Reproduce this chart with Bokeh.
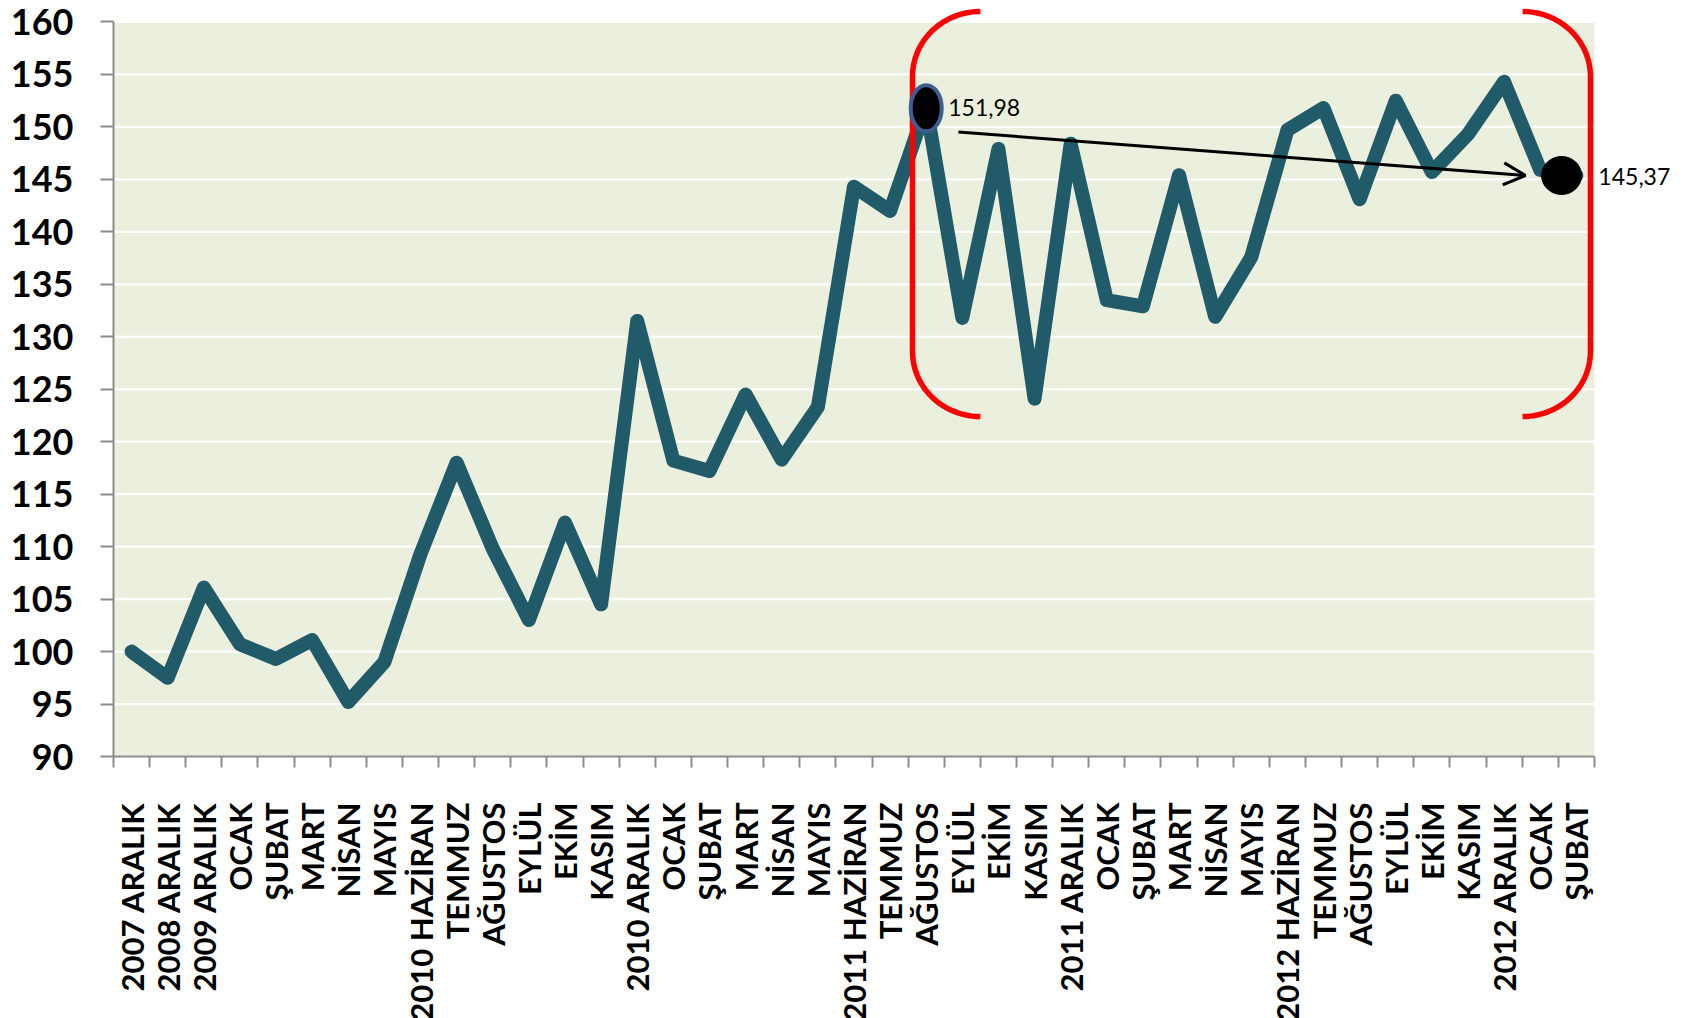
import math
import numpy as np
from bokeh.plotting import figure
from bokeh.models import Range1d, FixedTicker, Label, Arrow, OpenHead
from bokeh.embed import file_html
from bokeh.resources import INLINE

categories = ["2007 ARALIK", "2008 ARALIK", "2009 ARALIK", "OCAK", "ŞUBAT", "MART", "NİSAN", "MAYIS",
              "2010 HAZİRAN", "TEMMUZ", "AĞUSTOS", "EYLÜL", "EKİM", "KASIM", "2010 ARALIK",
              "OCAK", "ŞUBAT", "MART", "NİSAN", "MAYIS",
              "2011 HAZİRAN", "TEMMUZ", "AĞUSTOS", "EYLÜL", "EKİM", "KASIM", "2011 ARALIK",
              "OCAK", "ŞUBAT", "MART", "NİSAN", "MAYIS",
              "2012 HAZİRAN", "TEMMUZ", "AĞUSTOS", "EYLÜL", "EKİM", "KASIM", "2012 ARALIK",
              "OCAK", "ŞUBAT"]
values = [100.0, 97.5, 106.1, 100.7, 99.3, 101.1, 95.2, 99.0,
          109.3, 118.0, 109.8, 103.0, 112.3, 104.5, 131.5,
          118.2, 117.2, 124.5, 118.3, 123.3,
          144.3, 142.0, 151.98, 131.8, 147.9, 124.1, 148.4,
          133.5, 132.9, 145.4, 131.9, 137.6,
          149.7, 151.8, 143.1, 152.5, 145.7, 149.3, 154.3,
          145.9, 145.37]
y_ticks = [90, 95, 100, 105, 110, 115, 120, 125, 130, 135, 140, 145, 150, 155, 160]
start_label = "151,98"
end_label = "145,37"
start_idx = 22
end_idx = 40

n = len(categories)
xs = list(range(n))
y_min, y_max = y_ticks[0], y_ticks[-1]
x_lo, x_hi = -0.5, n - 0.5
px_x, px_y = 36.12, 10.493
FW, FH = 1567, 748

# frame extends to the right of the last category so the end label fits
p = figure(frame_width=FW, frame_height=FH, output_backend="svg", toolbar_location=None,
           x_range=Range1d(x_lo, x_lo + FW / px_x), y_range=Range1d(y_min, y_min + FH / px_y),
           min_border_left=113, min_border_right=0, min_border_top=8, min_border_bottom=240)
p.background_fill_color = "white"
p.border_fill_color = "white"
p.outline_line_color = None

# plot-area fill
p.quad(left=x_lo, right=x_hi, bottom=y_min, top=y_max, fill_color="#EBEFDE",
       line_color=None, level="image")

# grid (limited to the plot area)
p.xgrid.visible = False
p.ygrid.visible = False
p.segment(x0=[x_lo] * len(y_ticks), x1=[x_hi] * len(y_ticks), y0=y_ticks, y1=y_ticks,
          line_color="white", line_width=2.2, level="underlay")

# axes
ax = p.xaxis[0]
ax.ticker = FixedTicker(ticks=xs, minor_ticks=[i - 0.5 for i in range(n + 1)])
ax.bounds = (x_lo, x_hi)
ax.major_label_overrides = {i: c for i, c in enumerate(categories)}
ax.major_label_orientation = math.pi / 2
ax.major_tick_out = 0
ax.major_tick_in = 0
ax.minor_tick_out = 11
ax.minor_tick_in = 0
ax.minor_tick_line_color = "#8C8C8C"
ax.minor_tick_line_width = 2
ax.axis_line_color = "#8C8C8C"
ax.axis_line_width = 2
ax.major_label_standoff = 35
ax.major_label_text_font = "Lato"
ax.major_label_text_font_style = "bold"
ax.major_label_text_font_size = "31px"
ax.major_label_text_color = "black"

ay = p.yaxis[0]
ay.ticker = FixedTicker(ticks=y_ticks, minor_ticks=[])
ay.bounds = (y_min, y_max)
ay.major_tick_out = 13
ay.major_tick_in = 0
ay.major_tick_line_color = "#8C8C8C"
ay.major_tick_line_width = 2
ay.axis_line_color = "#8C8C8C"
ay.axis_line_width = 2
ay.major_label_standoff = 27
ay.major_label_text_font = "Lato"
ay.major_label_text_font_style = "bold"
ay.major_label_text_font_size = "36px"
ay.major_label_text_color = "black"

# main series
p.line(xs, values, line_width=14, line_color="#215A69", line_join="round", line_cap="round")

# red brackets
rx, ry = 1.88, 6.2
b_top, b_bot = 161.0, 122.4
lx, rxv = 21.62, 40.39

def bracket(xv, side):
    th1 = np.linspace(math.pi / 2, math.pi, 30)
    th2 = np.linspace(math.pi, 1.5 * math.pi, 30)
    cx = xv + rx * side
    bx = np.concatenate([cx + side * rx * np.cos(th1), cx + side * rx * np.cos(th2)])
    by = np.concatenate([(b_top - ry) + ry * np.sin(th1), (b_bot + ry) + ry * np.sin(th2)])
    return bx, by

for xv, side in [(lx, 1), (rxv, -1)]:
    bx, by = bracket(xv, side)
    p.line(bx, by, line_color="#FF0000", line_width=5.5, line_cap="butt", line_join="round")

# arrow
p.add_layout(Arrow(end=OpenHead(size=22, line_width=3, line_color="black"),
                   x_start=start_idx + 0.89, y_start=values[start_idx] - 2.46,
                   x_end=end_idx - 1.41, y_end=values[end_idx],
                   line_width=3, line_color="black"))

# markers
p.ellipse(x=start_idx, y=values[start_idx] - 0.2, width=31, height=46,
          width_units="screen", height_units="screen",
          fill_color="black", line_color="#3D5F8F", line_width=4)
p.ellipse(x=end_idx - 0.41, y=values[end_idx], width=40, height=38,
          width_units="screen", height_units="screen",
          fill_color="black", line_color="black", line_width=1)

for idx, txt in [(start_idx, start_label), (end_idx, end_label)]:
    p.add_layout(Label(x=idx, y=values[idx], text=txt, x_offset=22, y_offset=-1,
                       text_font="Lato", text_font_size="23px", text_color="black",
                       text_baseline="middle", text_align="left"))

open("out.html", "w").write(file_html(p, INLINE))
